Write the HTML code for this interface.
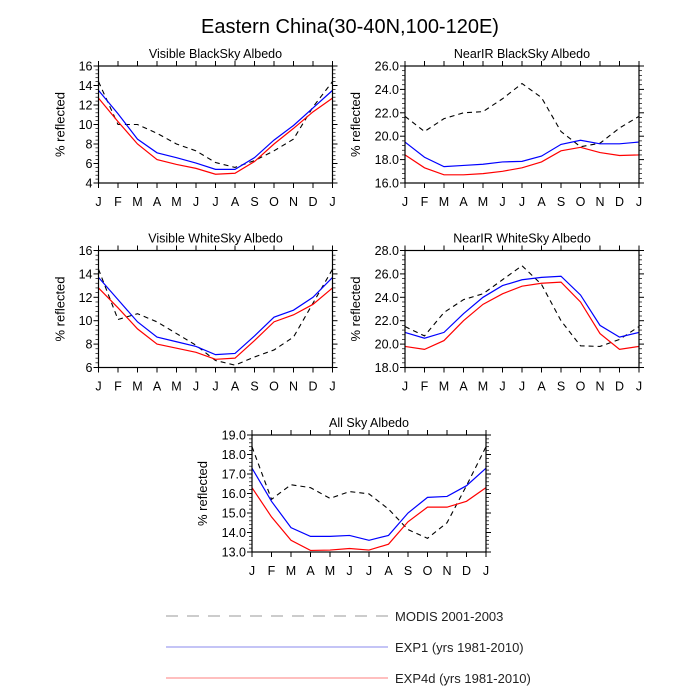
<!DOCTYPE html>
<html><head><meta charset="utf-8"><style>
html,body{margin:0;padding:0;background:#fff;}
svg{display:block;font-family:"Liberation Sans",sans-serif;}
</style></head><body>
<svg id="fig" width="700" height="700" viewBox="0 0 700 700">
<text x="350" y="33" text-anchor="middle" font-size="20">Eastern China(30-40N,100-120E)</text>
<g>
<line x1="166" y1="616" x2="388" y2="616" stroke="#bbb" stroke-width="1.5" stroke-dasharray="12,9"/>
<text x="395" y="621" font-size="13" fill="#222">MODIS 2001-2003</text>
<line x1="166" y1="647" x2="388" y2="647" stroke="#8888ee" stroke-width="1"/>
<text x="395" y="652" font-size="13" fill="#222">EXP1 (yrs 1981-2010)</text>
<line x1="166" y1="678" x2="388" y2="678" stroke="#ffaaaa" stroke-width="1.5"/>
<text x="395" y="683" font-size="13" fill="#222">EXP4d (yrs 1981-2010)</text>
</g>
</svg>
<script>
const months = ["J","F","M","A","M","J","J","A","S","O","N","D","J"];
const visBlackModis = [14.4,10.0,10.0,9.1,8.0,7.3,6.1,5.6,6.3,7.3,8.5,11.8,14.4];
const visBlackExp1 = [13.5,11.1,8.5,7.1,6.6,6.05,5.4,5.4,6.6,8.4,9.9,11.7,13.5];
const visBlackExp4d = [12.7,10.3,8.0,6.4,5.9,5.5,4.9,5.0,6.2,8.0,9.6,11.3,12.7];
const nirBlackModis = [21.7,20.4,21.5,22.0,22.1,23.2,24.5,23.3,20.4,19.1,19.4,20.7,21.7];
const nirBlackExp1 = [19.5,18.2,17.4,17.5,17.6,17.8,17.85,18.3,19.3,19.65,19.35,19.35,19.5];
const nirBlackExp4d = [18.4,17.3,16.7,16.7,16.8,17.0,17.3,17.8,18.75,19.05,18.6,18.35,18.4];
const visWhiteModis = [14.4,10.1,10.6,9.9,8.9,7.9,6.6,6.2,6.9,7.5,8.6,11.5,14.4];
const visWhiteExp1 = [13.7,11.8,9.9,8.6,8.2,7.8,7.1,7.2,8.7,10.3,10.9,12.0,13.7];
const visWhiteExp4d = [12.8,11.1,9.3,8.0,7.65,7.3,6.7,6.8,8.3,9.9,10.5,11.4,12.8];
const nirWhiteModis = [21.5,20.7,22.7,23.8,24.3,25.5,26.7,25.1,22.0,19.85,19.8,20.4,21.5];
const nirWhiteExp1 = [21.0,20.5,21.0,22.6,24.0,25.0,25.5,25.7,25.8,24.2,21.6,20.6,21.0];
const nirWhiteExp4d = [19.8,19.55,20.3,22.0,23.4,24.3,24.95,25.2,25.3,23.6,20.9,19.55,19.8];
const allSkyModis = [18.4,15.7,16.45,16.3,15.75,16.1,15.98,15.2,14.15,13.7,14.5,16.4,18.4];
const allSkyExp1 = [17.3,15.6,14.25,13.8,13.8,13.85,13.6,13.85,15.0,15.8,15.85,16.4,17.3];
const allSkyExp4d = [16.3,14.8,13.6,13.08,13.1,13.18,13.1,13.4,14.55,15.3,15.3,15.6,16.3];
const ticksVis1 = [4,6,8,10,12,14,16];
const ticksNir1 = [16,18,20,22,24,26];
const ticksVis2 = [6,8,10,12,14,16];
const ticksNir2 = [18,20,22,24,26,28];
const ticksAll = [13,14,15,16,17,18,19];

const NS="http://www.w3.org/2000/svg";
const svg=document.getElementById('fig');
function mk(tag,attrs,parent){const e=document.createElementNS(NS,tag);for(const k in attrs)e.setAttribute(k,attrs[k]);parent.appendChild(e);return e;}

function panel(name,title,x0,y0,w,h,ticks,dec,modis,exp1,exp4d){
  const g=mk('g',{},svg);
  
  
  const ymin=ticks[0],ymax=ticks[ticks.length-1];
  const xs=i=>x0+i*w/(months.length-1);
  const ys=v=>y0+h-(v-ymin)/(ymax-ymin)*h;
  const t=mk('text',{x:x0+w/2,y:y0-8,'text-anchor':'middle','font-size':12.5},g);
  t.textContent=title;
  
  
  const yl=mk('text',{x:0,y:0,'text-anchor':'middle','font-size':13,transform:`translate(${dec?x0-45:x0-34},${y0+h/2}) rotate(-90)`},g);
  yl.textContent='% reflected';
  
  
  months.forEach((m,i)=>{
    const x=xs(i);
    mk('line',{x1:x,y1:y0+h,x2:x,y2:y0+h+5,stroke:'#000'},g);
    mk('line',{x1:x,y1:y0,x2:x,y2:y0-5,stroke:'#000'},g);
    const lt=mk('text',{x:x,y:y0+h+23,'text-anchor':'middle','font-size':12.5},g);
    lt.textContent=m;
    
    
  });
  const step=ticks[1]-ticks[0];
  for(let i=0;i<ticks.length;i++){
    const v=ticks[i],y=ys(v);
    mk('line',{x1:x0,y1:y,x2:x0-5,y2:y,stroke:'#000'},g);
    mk('line',{x1:x0+w,y1:y,x2:x0+w+5,y2:y,stroke:'#000'},g);
    const lt=mk('text',{x:x0-6,y:y+4.5,'text-anchor':'end','font-size':12.5},g);
    lt.textContent=dec?v.toFixed(1):String(v);
    
    
    if(i<ticks.length-1){
      for(let k=1;k<5;k++){
        const ym=ys(v+step*k/5);
        mk('line',{x1:x0,y1:ym,x2:x0-3,y2:ym,stroke:'#000','stroke-width':0.7},g);
        mk('line',{x1:x0+w,y1:ym,x2:x0+w+3,y2:ym,stroke:'#000','stroke-width':0.7},g);
      }
    }
  }
  const series=[[modis,'#000','5,4',1.1,'modis'],[exp1,'#0000ff','',1.2,'exp1'],[exp4d,'#ff0000','',1.2,'exp4d']];
  series.forEach(([d,c,da,sw,n])=>{
    const p=mk('polyline',{points:d.map((v,i)=>xs(i)+','+ys(v)).join(' '),fill:'none',stroke:c,'stroke-width':sw,'stroke-dasharray':da||'none'},g);
    
    
  });
  mk('rect',{x:x0,y:y0,width:w,height:h,fill:'none',stroke:'#000','stroke-width':1.2},g);
}
panel('visible-blacksky-panel','Visible BlackSky Albedo',98.5,66,234,117,ticksVis1,false,visBlackModis,visBlackExp1,visBlackExp4d);
panel('nearir-blacksky-panel','NearIR BlackSky Albedo',405,66,234,117,ticksNir1,true,nirBlackModis,nirBlackExp1,nirBlackExp4d);
panel('visible-whitesky-panel','Visible WhiteSky Albedo',98.5,250.5,234,117,ticksVis2,false,visWhiteModis,visWhiteExp1,visWhiteExp4d);
panel('nearir-whitesky-panel','NearIR WhiteSky Albedo',405,250.5,234,117,ticksNir2,true,nirWhiteModis,nirWhiteExp1,nirWhiteExp4d);
panel('all-sky-panel','All Sky Albedo',252,435,234,117,ticksAll,true,allSkyModis,allSkyExp1,allSkyExp4d);
</script>
</body></html>
